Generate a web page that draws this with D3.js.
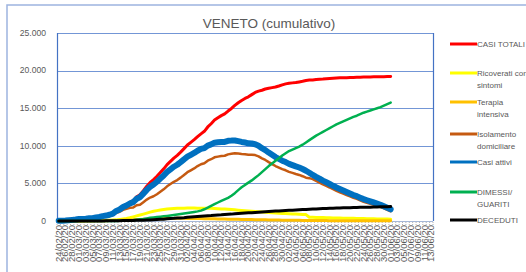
<!DOCTYPE html>
<html>
<head>
<meta charset="utf-8">
<script src="https://cdn.jsdelivr.net/npm/d3@7"></script>
<style>
  body { margin: 0; background: #fff; }
  svg { display: block; font-family: "Liberation Sans", Arial, sans-serif; }
  .tick-label { fill: #595959; }
</style>
</head>
<body>
<svg id="chart" width="526" height="272"></svg>
<script>
// Category axis: one entry per day, 24/02/20 .. 13/06/20
var firstDay = new Date(2020, 1, 24),
  lastDay = new Date(2020, 5, 13);
var days = d3.timeDay.range(firstDay, d3.timeDay.offset(lastDay, 1));
var dayLabels = days.map(d3.timeFormat("%d/%m/%y"));

// Y axis ticks
var yTicks = [0, 5000, 10000, 15000, 20000, 25000];

// Series values, one per day from 24/02 to 01/06
var casiTotali = [32, 43, 71, 111, 151, 191, 263, 273, 307, 360, 380, 488, 543, 670, 744, 856, 1023, 1384, 1595, 1937,
  2172, 2473, 2704, 3214, 3484, 4031, 4617, 5122, 5505, 5948, 6442, 6935, 7497, 7930, 8358, 8724, 9155, 9625, 10111, 10463,
  10824, 11226, 11588, 11925, 12505, 12930, 13421, 13725, 14011, 14249, 14624, 14964, 15374, 15727, 16029, 16300, 16513, 16806, 17095, 17269,
  17391, 17556, 17660, 17734, 17812, 17948, 18098, 18237, 18323, 18368, 18420, 18497, 18580, 18678, 18736, 18757, 18823, 18854, 18873, 18917,
  18962, 18993, 19031, 19045, 19052, 19064, 19085, 19097, 19108, 19119, 19138, 19141, 19153, 19169, 19183, 19187, 19195, 19205, 19213];

var ricoverati = [12, 12, 16, 19, 19, 22, 23, 23, 28, 35, 40, 50, 60, 75, 90, 105, 125, 150, 200, 260,
  330, 430, 550, 680, 800, 920, 1050, 1180, 1290, 1380, 1460, 1530, 1590, 1630, 1660, 1690, 1700, 1710, 1715, 1715,
  1715, 1710, 1710, 1705, 1700, 1680, 1660, 1635, 1610, 1580, 1550, 1515, 1480, 1440, 1400, 1365, 1330, 1295, 1260, 1225,
  1190, 1155, 1120, 1090, 1060, 1035, 1010, 985, 960, 940, 920, 900, 880, 850, 500, 490, 475, 460, 450, 435,
  420, 410, 400, 390, 380, 370, 360, 350, 340, 330, 320, 310, 300, 290, 280, 270, 260, 250, 240];

var terapiaIntensiva = [5, 6, 7, 7, 11, 13, 14, 15, 17, 19, 19, 24, 30, 36, 43, 53, 69, 81, 96, 115,
  128, 144, 167, 183, 205, 223, 240, 256, 274, 287, 301, 317, 328, 337, 346, 350, 355, 356, 349, 343,
  336, 330, 321, 311, 305, 293, 284, 276, 268, 258, 249, 241, 228, 218, 210, 200, 194, 185, 178, 169,
  162, 150, 143, 136, 128, 120, 114, 106, 100, 96, 92, 86, 80, 76, 72, 66, 62, 58, 55, 52,
  49, 47, 44, 42, 40, 38, 36, 34, 32, 30, 29, 28, 27, 25, 24, 23, 22, 21, 20];

var isolamento = [14, 24, 46, 83, 119, 154, 224, 233, 260, 303, 317, 408, 440, 541, 589, 671, 793, 1104, 1237, 1482,
  1607, 1756, 1794, 2095, 2165, 2503, 2846, 3118, 3292, 3559, 3881, 4213, 4612, 4910, 5212, 5442, 5767, 6130, 6488, 6739,
  6994, 7306, 7549, 7685, 8025, 8215, 8470, 8559, 8635, 8673, 8859, 8933, 8999, 8961, 8903, 8871, 8807, 8819, 8767, 8601,
  8333, 8118, 7835, 7573, 7309, 7106, 6898, 6743, 6541, 6392, 6250, 6126, 5954, 5760, 5700, 5566, 5327, 5109, 4864, 4658,
  4454, 4226, 4013, 3827, 3634, 3447, 3267, 3077, 2936, 2745, 2564, 2417, 2281, 2148, 2009, 1862, 1671, 1480, 1290];

var casiAttivi = [31, 42, 69, 109, 149, 189, 261, 271, 305, 357, 376, 482, 530, 652, 722, 829, 987, 1335, 1533, 1857,
  2065, 2330, 2511, 2958, 3170, 3646, 4136, 4554, 4856, 5226, 5642, 6060, 6530, 6877, 7218, 7482, 7822, 8196, 8552, 8797,
  9045, 9346, 9580, 9701, 10030, 10188, 10414, 10470, 10513, 10511, 10658, 10689, 10707, 10619, 10513, 10436, 10331, 10299, 10205, 9995,
  9685, 9423, 9098, 8799, 8497, 8261, 8022, 7834, 7601, 7428, 7262, 7112, 6914, 6686, 6417, 6122, 5864, 5627, 5369, 5145,
  4923, 4683, 4457, 4259, 4054, 3855, 3663, 3461, 3308, 3105, 2913, 2755, 2608, 2463, 2313, 2155, 1953, 1751, 1550];

var guariti = [0, 0, 0, 0, 0, 0, 0, 0, 0, 0, 0, 0, 0, 2, 2, 5, 10, 15, 20, 30,
  50, 80, 120, 170, 220, 270, 350, 420, 480, 530, 580, 630, 680, 730, 790, 850, 920, 990, 1060, 1130,
  1200, 1280, 1380, 1560, 1780, 2020, 2240, 2460, 2680, 2880, 3080, 3360, 3700, 4100, 4480, 4800, 5100, 5400, 5750, 6100,
  6500, 6900, 7300, 7650, 8000, 8350, 8700, 9000, 9300, 9500, 9700, 9900, 10150, 10450, 10750, 11050, 11350, 11600, 11850, 12100,
  12350, 12600, 12850, 13050, 13250, 13450, 13650, 13850, 14000, 14200, 14400, 14550, 14700, 14850, 15000, 15150, 15350, 15550, 15750];

var deceduti = [1, 1, 2, 2, 2, 2, 2, 2, 2, 3, 4, 6, 13, 16, 20, 22, 26, 34, 42, 50,
  57, 63, 73, 86, 94, 115, 131, 148, 169, 192, 220, 245, 287, 323, 350, 392, 413, 439, 499, 536,
  579, 600, 628, 664, 695, 722, 767, 795, 818, 858, 886, 915, 967, 1008, 1036, 1064, 1082, 1107, 1140, 1174,
  1206, 1233, 1262, 1285, 1315, 1337, 1376, 1403, 1422, 1440, 1458, 1485, 1516, 1542, 1569, 1585, 1609, 1627, 1654, 1672,
  1689, 1710, 1724, 1736, 1748, 1759, 1772, 1786, 1800, 1814, 1825, 1836, 1845, 1856, 1870, 1882, 1892, 1904, 1913];

// Series names as shown in the legend (lines of text)
var seriesNames = [["CASI TOTALI"], ["Ricoverati con", "sintomi"], ["Terapia", "intensiva"],
  ["Isolamento", "domiciliare"], ["Casi attivi"], ["DIMESSI/", "GUARITI"], ["DECEDUTI"]];
var seriesValues = [casiTotali, ricoverati, terapiaIntensiva, isolamento, casiAttivi, guariti, deceduti];
var seriesColors = ["#FF0000", "#FFFF00", "#FFC000", "#C55A11", "#0070C0", "#00B050", "#000000"];
var seriesWidths = [3, 3, 3, 2.5, 6, 2.5, 3];

var svg = d3.select("#chart");

// Plot area
var plot = { left: 57, right: 433, top: 33, bottom: 221 };

var x = d3.scaleBand()
  .domain(d3.range(dayLabels.length))
  .range([plot.left, plot.right]);

var y = d3.scaleLinear()
  .domain([0, 25000])
  .range([plot.bottom, plot.top]);

function cx(i) {
  return x(i) + x.bandwidth() / 2;
}

// Outer chart frame (only top and left edges are visible)
svg.append("rect")
  .attr("x", 7)
  .attr("y", 5)
  .attr("width", 600)
  .attr("height", 400)
  .attr("fill", "none")
  .attr("stroke", "#9DB4E0")
  .attr("stroke-width", 1.5);

// Horizontal gridlines
svg.append("g")
  .selectAll("line")
  .data(yTicks.filter(function(d) { return d > 0; }))
  .enter()
  .append("line")
  .attr("x1", plot.left)
  .attr("x2", plot.right)
  .attr("y1", function(d) { return Math.round(y(d)) + 0.5; })
  .attr("y2", function(d) { return Math.round(y(d)) + 0.5; })
  .attr("stroke", "#7396D6")
  .attr("stroke-width", 1);

// Plot area border (left, right)
svg.append("line")
  .attr("x1", plot.left + 0.5).attr("x2", plot.left + 0.5)
  .attr("y1", plot.top).attr("y2", plot.bottom)
  .attr("stroke", "#4472C4").attr("stroke-width", 1.2);
svg.append("line")
  .attr("x1", plot.right + 0.5).attr("x2", plot.right + 0.5)
  .attr("y1", plot.top).attr("y2", plot.bottom)
  .attr("stroke", "#4472C4").attr("stroke-width", 1.2);

// Category axis line and tick marks
svg.append("line")
  .attr("x1", plot.left).attr("x2", plot.right)
  .attr("y1", plot.bottom + 0.5).attr("y2", plot.bottom + 0.5)
  .attr("stroke", "#A6B8D8").attr("stroke-width", 1);

svg.append("g")
  .selectAll("line")
  .data(d3.range(dayLabels.length + 1))
  .enter()
  .append("line")
  .attr("x1", function(d) { return plot.left + d * x.step(); })
  .attr("x2", function(d) { return plot.left + d * x.step(); })
  .attr("y1", plot.bottom + 1)
  .attr("y2", plot.bottom + 5)
  .attr("stroke", "#A0A0A0")
  .attr("stroke-dasharray", "1,1")
  .attr("stroke-width", 0.8);

// Y tick labels
svg.append("g")
  .selectAll("text")
  .data(yTicks)
  .enter()
  .append("text")
  .attr("class", "tick-label")
  .attr("x", 46)
  .attr("y", function(d) { return y(d); })
  .attr("dy", "0.33em")
  .attr("text-anchor", "end")
  .attr("font-size", 8.6)
  .text(function(d) { return d3.format(",")(d).replace(/,/g, "."); });

// X tick labels, every other day, rotated
svg.append("g")
  .selectAll("text")
  .data(dayLabels.map(function(d, i) { return { label: d, i: i }; })
    .filter(function(d) { return d.i % 2 == 0; }))
  .enter()
  .append("text")
  .attr("class", "tick-label")
  .attr("font-size", 9.5)
  .attr("text-anchor", "end")
  .attr("transform", function(d) {
    return "translate(" + (cx(d.i) + 3) + "," + (plot.bottom + 4) + ") rotate(-90)";
  })
  .text(function(d) { return d.label; });

// Series lines
var line = d3.line()
  .x(function(d, i) { return cx(i); })
  .y(function(d) { return y(d); });

svg.append("g")
  .selectAll("path")
  .data(seriesValues)
  .enter()
  .append("path")
  .attr("d", line)
  .attr("fill", "none")
  .attr("stroke", function(d, i) { return seriesColors[i]; })
  .attr("stroke-width", function(d, i) { return seriesWidths[i]; })
  .attr("stroke-linejoin", "round")
  .attr("stroke-linecap", "round");

// Title
svg.append("text")
  .attr("x", 269)
  .attr("y", 28)
  .attr("text-anchor", "middle")
  .attr("font-size", 13.5)
  .attr("fill", "#595959")
  .text("VENETO (cumulativo)");

// Legend
var legendY = [44, 73, 102, 134, 162, 192, 220];
var legend = svg.append("g")
  .selectAll("g")
  .data(seriesNames)
  .enter()
  .append("g")
  .attr("transform", function(d, i) { return "translate(450," + legendY[i] + ")"; });

legend.append("line")
  .attr("x1", 0)
  .attr("x2", 27)
  .attr("stroke", function(d, i) { return seriesColors[i]; })
  .attr("stroke-width", 3);

legend.append("text")
  .attr("x", 27)
  .attr("y", 3)
  .attr("font-size", 8)
  .attr("fill", "#595959")
  .selectAll("tspan")
  .data(function(d) { return d; })
  .enter()
  .append("tspan")
  .attr("x", 27)
  .attr("dy", function(d, i) { return i == 0 ? 0 : 12; })
  .text(function(d) { return d; });
</script>
</body>
</html>
